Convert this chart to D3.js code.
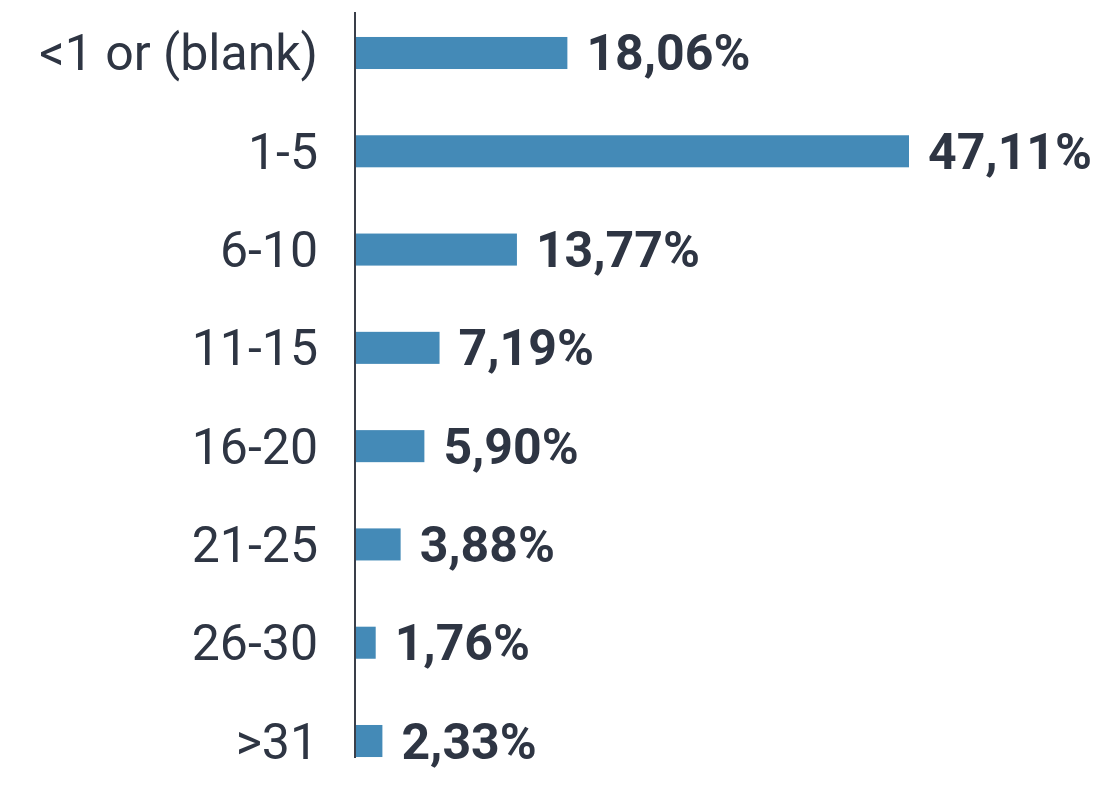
<!DOCTYPE html>
<html><head><meta charset="utf-8">
<script src="https://cdn.jsdelivr.net/npm/d3@7"></script>
<style>html,body{margin:0;padding:0;background:#fff;}svg{display:block;}</style>
</head><body>
<svg id="chart" width="1100" height="786"></svg>
<script>
const categories = ["<1 or (blank)", "1-5", "6-10", "11-15", "16-20", "21-25", "26-30", ">31"];
const values = [18.06, 47.11, 13.77, 7.19, 5.90, 3.88, 1.76, 2.33];
const valueLabels = ["18,06%", "47,11%", "13,77%", "7,19%", "5,90%", "3,88%", "1,76%", "2,33%"];

const svg = d3.select("#chart");
const textColor = "#2e3543";
const barColor = "#448ab7";
const x0 = 355;

const x = d3.scaleLinear().domain([0, 47.11]).range([x0, 909]);
const y = d3.scaleBand().domain(categories).range([3.85, 790.15]).paddingInner(0.674).paddingOuter(0.337);

svg.append("g").selectAll("rect").data(values).join("rect")
  .attr("x", x(0))
  .attr("y", (d, i) => y(categories[i]))
  .attr("width", d => x(d) - x(0))
  .attr("height", y.bandwidth())
  .attr("fill", barColor);

const axis = svg.append("g").attr("transform", `translate(${x0},0)`)
  .call(d3.axisLeft(y).tickSize(0).tickPadding(37));
axis.select(".domain").remove();
axis.selectAll("text")
  .attr("font-family", "Roboto, sans-serif")
  .attr("font-size", 50)
  .attr("fill", textColor)
  .attr("dy", "0.35em");

svg.append("line")
  .attr("x1", x0).attr("x2", x0)
  .attr("y1", 12).attr("y2", 758)
  .attr("stroke", "#3a3f4a").attr("stroke-width", 2);

svg.append("g").selectAll("text").data(values).join("text")
  .attr("x", d => x(d) + 19)
  .attr("y", (d, i) => y(categories[i]) + y.bandwidth() / 2)
  .attr("dy", "0.35em")
  .attr("font-family", "Roboto, sans-serif")
  .attr("font-weight", "bold")
  .attr("font-size", 50)
  .attr("fill", textColor)
  .text((d, i) => valueLabels[i]);
</script>
</body></html>
